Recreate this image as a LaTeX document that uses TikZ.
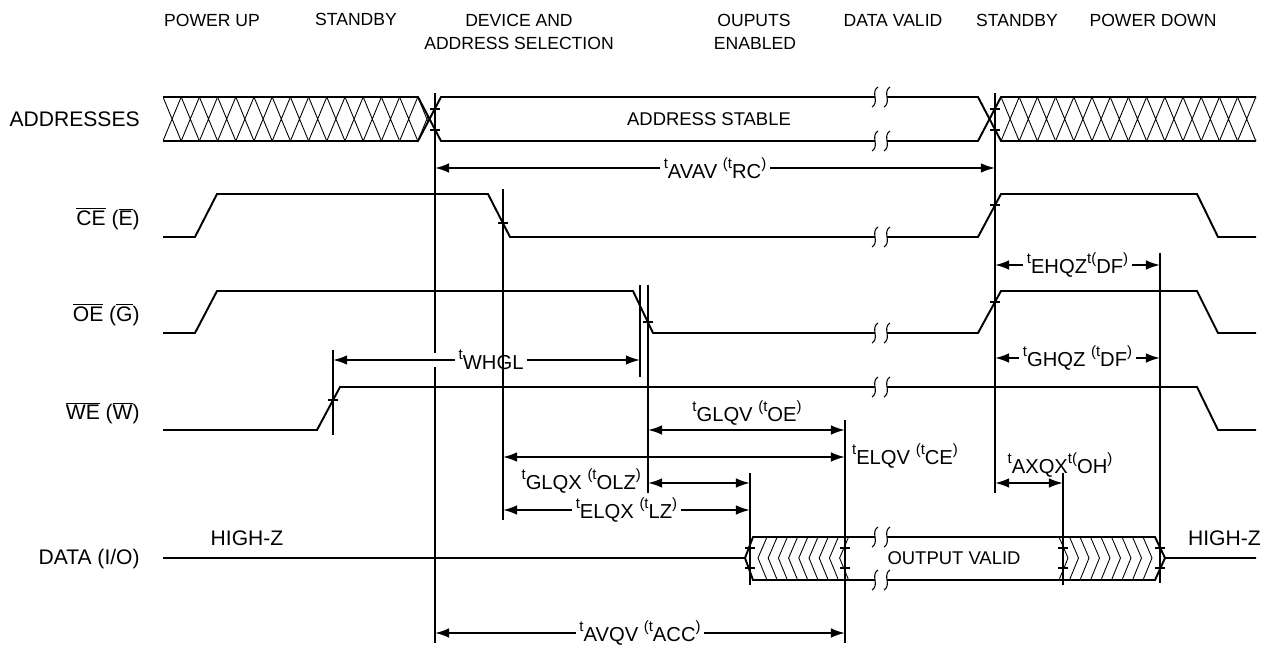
\documentclass[tikz,border=0pt]{standalone}
\usepackage{fontspec}
\setmainfont{Liberation Sans}
\usetikzlibrary{arrows.meta}
\newcommand\tu[1]{\raisebox{0.6ex}{\fontsize{8.5}{9}\selectfont #1}}
\newcommand\td[1]{\raisebox{-0.3ex}{#1}}
\newcommand\olt[1]{$\overline{\hbox{#1}}$}
\begin{document}
\begin{tikzpicture}[x=0.02cm,y=-0.02cm,
  sig/.style={line width=1.1pt, line join=miter},
  hatch/.style={line width=0.5pt},
  brk/.style={line width=0.6pt},
  vl/.style={line width=1.1pt},
  tck/.style={line width=0.9pt},
  dim/.style={line width=1.1pt,{Latex[length=8pt,width=5.5pt]}-{Latex[length=8pt,width=5.5pt]}},
  lab/.style={font=\fontsize{11.5}{13}\selectfont, inner sep=1pt},
  wlab/.style={lab, fill=white, inner xsep=2pt, inner ysep=0pt},
  siglab/.style={font=\fontsize{12}{14}\selectfont, anchor=base east, inner sep=0pt},
  head/.style={font=\fontsize{10}{12}\selectfont, anchor=base, inner sep=0pt},
  hz/.style={font=\fontsize{12}{14}\selectfont, inner sep=0pt},
  body/.style={font=\fontsize{10.5}{12}\selectfont, inner sep=0pt}
]
\useasboundingbox (0,0) rectangle (1264,651);
\newcommand\brkm[2]{\draw[brk] ({#1+3},{#2-10}) .. controls ({#1-5},{#2-5}) and ({#1+5},{#2+5}) .. ({#1-3},{#2+10});}
\newcommand\tickm[2]{\draw[tck] ({#1-5},#2) -- ({#1+5},#2);}

% headers
\node[head] (h1) at (212,27) {POWER UP};
\node[head] (h2) at (356,26) {STANDBY};
\node[head] (h3a) at (519,27) {DEVICE AND};
\node[head] (h3b) at (519,50) {ADDRESS SELECTION};
\node[head] (h4a) at (754,27) {OUPUTS};
\node[head] (h4b) at (755,50) {ENABLED};
\node[head] (h5) at (893,27) {DATA VALID};
\node[head] (h6) at (1017,27) {STANDBY};
\node[head] (h7) at (1153,27) {POWER DOWN};

% signal labels
\node[siglab] (la) at (140,127) {ADDRESSES};
\node[siglab] (lce) at (140,226) {\olt{CE} (\olt{E})};
\node[siglab] (loe) at (140,322) {\olt{OE} (\olt{G})};
\node[siglab] (lwe) at (140,420) {\olt{WE} (\olt{W})};
\node[siglab] (ld) at (140,564) {DATA (I/O)};

% address hatch
\begin{scope}
\clip (163,97) -- (418,97) -- (429.5,119) -- (418,141) -- (163,141) -- cycle;
\foreach \i in {0,...,14} {\draw[hatch] ({163+\i*18.2},97) -- ({163+(\i+1)*18.2},141) ({163+(\i+1)*18.2},97) -- ({163+\i*18.2},141);}
\end{scope}
\begin{scope}
\clip (989.5,119) -- (1001,97) -- (1256,97) -- (1256,141) -- (1001,141) -- cycle;
\foreach \i in {0,...,14} {\draw[hatch] ({1001+\i*18.2},97) -- ({1001+(\i+1)*18.2},141) ({1001+(\i+1)*18.2},97) -- ({1001+\i*18.2},141);}
\end{scope}
\draw[sig] (163,97) -- (418,97) -- (441,141) -- (875,141) (887,141) -- (978,141) -- (1001,97) -- (1256,97);
\draw[sig] (163,141) -- (418,141) -- (441,97) -- (875,97) (887,97) -- (978,97) -- (1001,141) -- (1256,141);
\brkm{875}{97}\brkm{887}{97}\brkm{875}{141}\brkm{887}{141}
\node[body] (as) at (709,119) {ADDRESS STABLE};

% CE
\draw[sig] (163,237) -- (195,237) -- (217,194) -- (488,194) -- (510,237) -- (875,237) (887,237) -- (978,237) -- (1001,194) -- (1197,194) -- (1218,237) -- (1256,237);
\brkm{875}{237}\brkm{887}{237}
% OE
\draw[sig] (163,333) -- (195,333) -- (217,291) -- (633,291) -- (653,333) -- (875,333) (887,333) -- (978,333) -- (1001,291) -- (1197,291) -- (1218,333) -- (1256,333);
\brkm{875}{333}\brkm{887}{333}
% WE
\draw[sig] (163,430) -- (317,430) -- (340,387) -- (875,387) (887,387) -- (1197,387) -- (1218,430) -- (1256,430);
\brkm{875}{387}\brkm{887}{387}

% DATA
\begin{scope}
\clip (745,558) -- (753,537) -- (850,537) -- (850,580) -- (753,580) -- cycle;
\foreach \i in {0,...,8} {\draw[hatch] ({758+\i*10.2+9},537) -- ({758+\i*10.2},558) -- ({758+\i*10.2+9},580);}
\end{scope}
\begin{scope}
\clip (1056,537) -- (1155,537) -- (1165,558) -- (1155,580) -- (1056,580) -- cycle;
\foreach \i in {0,...,8} {\draw[hatch] ({1059+\i*10.5},537) -- ({1059+\i*10.5+9},558) -- ({1059+\i*10.5},580);}
\end{scope}
\draw[sig] (163,558) -- (745,558) -- (753,537) -- (875,537) (887,537) -- (1155,537) -- (1165,558) -- (1256,558);
\draw[sig] (745,558) -- (753,580) -- (875,580) (887,580) -- (1155,580) -- (1165,558);
\brkm{875}{537}\brkm{887}{537}\brkm{875}{580}\brkm{887}{580}
\node[body] (ov) at (954,558) {OUTPUT VALID};
\node[hz, anchor=base] (hz1) at (247,545) {HIGH-Z};
\node[hz, anchor=base east] (hz2) at (1261,545) {HIGH-Z};

% dimension arrows
\coordinate (v1a) at (435,168); \coordinate (v8a) at (995,168);
\draw[dim] (v1a) -- (v8a) node[wlab, midway] {\tu{t}\td{AVAV} \tu{(t}\td{RC}\tu{)}};
\coordinate (e1) at (995,265); \coordinate (e2) at (1160,265);
\draw[dim] (e1) -- (e2) node[wlab, midway] {\tu{t}\td{EHQZ}\tu{t(}\td{DF}\tu{)}};
\coordinate (g1) at (995,358); \coordinate (g2) at (1160,358);
\draw[dim] (g1) -- (g2) node[wlab, midway] {\tu{t}\td{GHQZ} \tu{(t}\td{DF}\tu{)}};
\coordinate (w1) at (333,360); \coordinate (w2) at (640,360);
\draw[dim] (w1) -- (w2) node[wlab, pos=0.515] {\tu{t}\td{WHGL}};
\coordinate (q1) at (648,430); \coordinate (q2) at (845,430);
\draw[dim] (q1) -- (q2);
\node[lab] (lq) at (747,413) {\tu{t}\td{GLQV} \tu{(t}\td{OE}\tu{)}};
\coordinate (el1) at (503,457); \coordinate (el2) at (845,457);
\draw[dim] (el1) -- (el2);
\node[lab, anchor=west] (lel) at (850,456) {\tu{t}\td{ELQV} \tu{(t}\td{CE}\tu{)}};
\coordinate (gx1) at (648,483); \coordinate (gx2) at (750,483);
\draw[dim] (gx1) -- (gx2);
\node[lab, anchor=east] (lgx) at (643,481) {\tu{t}\td{GLQX} \tu{(t}\td{OLZ}\tu{)}};
\coordinate (ex1) at (503,510); \coordinate (ex2) at (750,510);
\draw[dim] (ex1) -- (ex2) node[wlab, midway] {\tu{t}\td{ELQX} \tu{(t}\td{LZ}\tu{)}};
\coordinate (ax1) at (995,483); \coordinate (ax2) at (1063,483);
\draw[dim] (ax1) -- (ax2);
\node[lab] (lax) at (1060,465) {\tu{t}\td{AXQX}\tu{t(}\td{OH}\tu{)}};
\coordinate (av1) at (435,633); \coordinate (av2) at (845,633);
\draw[dim] (av1) -- (av2) node[wlab, midway] {\tu{t}\td{AVQV} \tu{(t}\td{ACC}\tu{)}};

% vertical reference lines
\draw[vl] (435,93) -- (435,353) (435,367) -- (435,643);
\draw[vl] (503,189) -- (503,520);
\draw[vl] (640,285) -- (640,377);
\draw[vl] (648,285) -- (648,493);
\draw[vl] (333,350) -- (333,435);
\draw[vl] (845,420) -- (845,643);
\draw[vl] (750,473) -- (750,585);
\draw[vl] (995,93) -- (995,493);
\draw[vl] (1160,253) -- (1160,583);
\draw[vl] (1063,473) -- (1063,585);

% ticks
\tickm{435}{109}\tickm{435}{130}
\tickm{995}{109}\tickm{995}{130}
\tickm{503}{223}\tickm{648}{322}\tickm{333}{400}
\tickm{995}{205}\tickm{995}{302}
\tickm{750}{548}\tickm{750}{568}
\tickm{845}{548}\tickm{845}{568}
\tickm{1063}{548}\tickm{1063}{568}
\tickm{1160}{548}\tickm{1160}{568}
\end{tikzpicture}
\end{document}
